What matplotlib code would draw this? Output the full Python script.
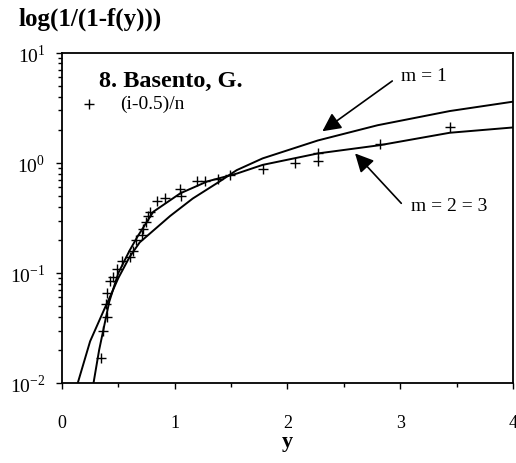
import numpy as np
import matplotlib.pyplot as plt
from matplotlib.ticker import MultipleLocator, LogLocator, FixedFormatter, FixedLocator

plt.rcParams['font.family'] = ['Liberation Serif', 'DejaVu Serif']
plt.rcParams['mathtext.fontset'] = 'custom'
plt.rcParams['mathtext.rm'] = 'Liberation Serif'

# fitted curve m = 1
m1_x = [0.14, 0.25, 0.38, 0.43, 0.5, 0.6, 0.69, 0.96, 1.16, 1.4, 1.55, 1.78, 2.27, 2.8, 3.44, 4.0]
m1_y = [0.01, 0.024, 0.048, 0.062, 0.09, 0.14, 0.19, 0.33, 0.475, 0.68, 0.86, 1.1, 1.6, 2.2, 2.96, 3.6]

# fitted curve m = 2 = 3
m23_x = [0.28, 0.33, 0.42, 0.5, 0.6, 0.67, 0.81, 1.05, 1.29, 1.55, 1.78, 2.27, 2.82, 3.44, 4.0]
m23_y = [0.01, 0.02, 0.055, 0.1, 0.16, 0.214, 0.36, 0.53, 0.68, 0.8, 0.96, 1.22, 1.45, 1.88, 2.1]

# plotting positions (i-0.5)/n
pts_x = [0.35, 0.365, 0.40, 0.39, 0.40, 0.43, 0.45, 0.49, 0.53, 0.60, 0.63, 0.66, 0.71,
         0.72, 0.75, 0.76, 0.78, 0.84, 0.91, 1.05, 1.06, 1.20, 1.27, 1.38, 1.49, 1.78,
         2.07, 2.27, 2.27, 2.82, 3.44]
pts_y = [0.017, 0.03, 0.04, 0.052, 0.066, 0.085, 0.092, 0.11, 0.13, 0.14, 0.16, 0.2, 0.22,
         0.25, 0.29, 0.33, 0.36, 0.45, 0.48, 0.58, 0.5, 0.68, 0.69, 0.72, 0.77, 0.89,
         1.0, 1.05, 1.22, 1.5, 2.1]

fig = plt.figure(figsize=(5.16, 4.64), dpi=100)
ax = fig.add_axes([0.120, 0.172, 0.874, 0.712])

ax.plot(m1_x, m1_y, color='black', lw=1.4)
ax.plot(m23_x, m23_y, color='black', lw=1.4)
ax.plot(pts_x, pts_y, linestyle='none', marker='+', color='black', ms=7.5, mew=1.0)

ax.set_yscale('log')
ax.set_xlim(0, 4)
ax.set_ylim(0.01, 10)

ax.xaxis.set_major_locator(MultipleLocator(1))
ax.xaxis.set_minor_locator(MultipleLocator(0.5))
ax.yaxis.set_major_locator(FixedLocator([0.01, 0.1, 1, 10]))
ax.yaxis.set_major_formatter(FixedFormatter(['10$^{-2}$', '10$^{-1}$', '10$^{0}$', '10$^{1}$']))
ax.yaxis.set_minor_locator(LogLocator(base=10, subs=np.arange(2, 10)))
ax.tick_params(axis='x', which='major', direction='out', length=4, width=1, pad=18, labelsize=13)
ax.tick_params(axis='x', which='minor', direction='out', length=3, width=1)
ax.tick_params(axis='y', which='major', direction='out', length=4, width=1, pad=8, labelsize=14)
ax.tick_params(axis='y', which='minor', direction='out', length=3, width=1)
for s in ax.spines.values():
    s.set_linewidth(1.3)

ax.set_xlabel('y', fontsize=16, fontweight='bold', labelpad=0)
fig.text(0.036, 0.958, 'log(1/(1-f(y)))', fontsize=18, fontweight='bold', va='center', ha='left')

ax.text(0.082, 0.915, '8. Basento, G.', transform=ax.transAxes, fontsize=17.5,
        fontweight='bold', va='center', ha='left')
ax.plot([0.06], [0.845], transform=ax.transAxes, marker='+', color='black', ms=7.5, mew=1.0)
ax.text(0.13, 0.848, '(i-0.5)/n', transform=ax.transAxes, fontsize=14, va='center', ha='left')

arrow = dict(arrowstyle='-|>', mutation_scale=28, color='black', lw=1.2, shrinkA=0, shrinkB=0)
ax.annotate('', xy=(2.31, 1.94), xytext=(2.93, 5.55), arrowprops=arrow)
ax.text(3.01, 6.2, 'm = 1', fontsize=14, va='center', ha='left')
ax.annotate('', xy=(2.60, 1.22), xytext=(3.01, 0.43), arrowprops=arrow)
ax.text(3.10, 0.41, 'm = 2 = 3', fontsize=14, va='center', ha='left')

fig.savefig('out.png', dpi=100)
